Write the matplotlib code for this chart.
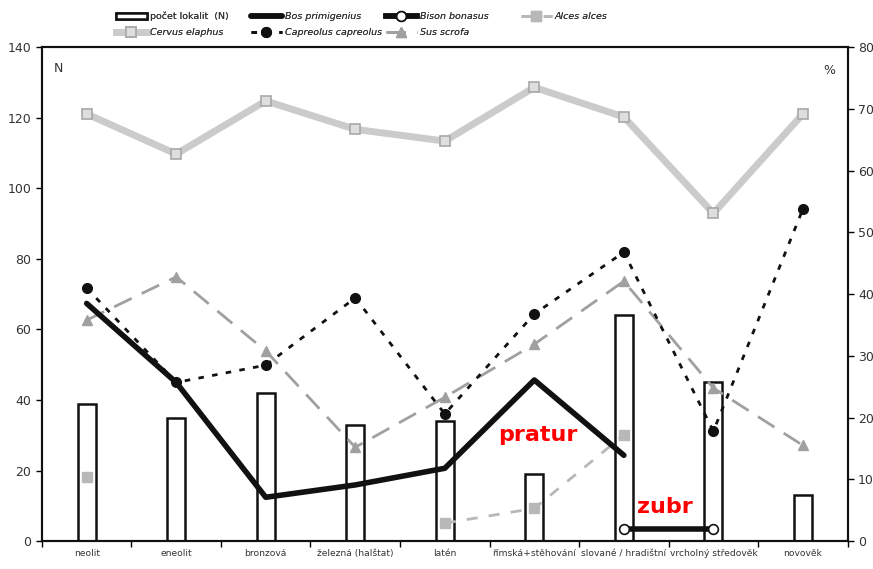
import matplotlib
matplotlib.use("Agg")
import matplotlib.pyplot as plt
import numpy as np

categories = ["neolit", "eneolit", "bronzová", "železná (halštat)", "latén",
              "římská+stěhování", "slované / hradištní", "vrcholný středověk", "novověk"]
n_sites = [39, 35, 42, 33, 34, 19, 64, 45, 13]
cervus = [69.2, 62.7, 71.3, 66.7, 64.8, 73.5, 68.7, 53.1, 69.2]
bos = [38.5, 25.7, 7.1, 9.1, 11.8, 26.1, 13.9, None, None]
capreolus = [41.0, 25.7, 28.5, 39.4, 20.6, 36.8, 46.8, 17.8, 53.8]
sus = [35.8, 42.8, 30.8, 15.2, 23.3, 31.9, 42.1, 24.8, 15.5]
alces = [10.4, None, None, None, 2.9, 5.3, 17.2, None, None]
bison = [None, None, None, None, None, None, 2.0, 2.0, None]

def arr(v):
    return np.array([np.nan if a is None else a for a in v], dtype=float)

x = np.arange(len(categories))

fig = plt.figure(figsize=(8.73, 5.69), dpi=100)
ax = fig.add_axes([0.048, 0.049, 0.923, 0.868])
ax2 = ax.twinx()

tc = "#333333"
ax.bar(x, n_sites, width=0.2, facecolor="white", edgecolor="#111111", linewidth=1.8,
       label="počet lokalit  (N)", zorder=2)
ax.set_xlim(-0.5, len(categories) - 0.5)
ax.set_ylim(0, 140)
ax.set_yticks(range(0, 141, 20))
ax2.set_ylim(0, 80)
ax2.set_yticks(range(0, 81, 10))

ax2.plot(x, arr(cervus), color="#cbcbcb", lw=5, marker="s", ms=7,
         mfc="#dedede", mec="#a8a8a8", mew=1.2, label="Cervus elaphus", zorder=3)
ax2.plot(x, arr(bos), color="#111111", lw=4, solid_capstyle="round",
         label="Bos primigenius", zorder=5)
ax2.plot(x, arr(capreolus), color="#111111", lw=2, ls=(0, (2, 3)), marker="o", ms=7,
         label="Capreolus capreolus", zorder=4)
ax2.plot(x, arr(sus), color="#a0a0a0", lw=2, ls=(0, (7, 4)), marker="^", ms=7,
         label="Sus scrofa", zorder=3)
ax2.plot(x, arr(alces), color="#b8b8b8", lw=2, ls=(0, (4, 4)), marker="s", ms=7,
         label="Alces alces", zorder=3)
ax2.plot(x, arr(bison), color="#111111", lw=4, marker="o", ms=7, mfc="white",
         mec="#111111", mew=1.2, label="Bison bonasus", zorder=5)

ax.set_xticks(x)
ax.set_xticklabels(categories, fontsize=6.6, color=tc)
ax.tick_params(axis="x", length=0, pad=6)
ax.set_xticks(np.arange(-0.5, len(categories), 1), minor=True)
ax.tick_params(axis="x", which="minor", length=4, direction="out", width=1)
ax.tick_params(axis="y", labelsize=9, labelcolor=tc, length=4, width=1)
ax2.tick_params(axis="y", labelsize=9, labelcolor=tc, length=4, width=1)
for a in (ax, ax2):
    for s in a.spines.values():
        s.set_linewidth(1.5)
        s.set_color("#111111")

ax.text(0.015, 0.957, "N", transform=ax.transAxes, fontsize=9, color=tc, va="center")
ax2.text(0.985, 0.953, "%", transform=ax.transAxes, fontsize=9, color=tc, va="center", ha="right")

ax2.text(5.04, 17.2, "pratur", color="red", fontsize=16, fontweight="bold", ha="center", va="center")
ax2.text(6.46, 5.5, "zubr", color="red", fontsize=16, fontweight="bold", ha="center", va="center")

h1, l1 = ax.get_legend_handles_labels()
h2, l2 = ax2.get_legend_handles_labels()
hd = dict(zip(l1 + l2, h1 + h2))
columns = [["počet lokalit  (N)", "Cervus elaphus"],
           ["Bos primigenius", "Capreolus capreolus"],
           ["Bison bonasus", "Sus scrofa"],
           ["Alces alces"]]
col_x = [113, 248, 383, 518]
for cx, col in zip(col_x, columns):
    leg = fig.legend([hd[o] for o in col], col, ncol=1, loc="upper left",
                     bbox_to_anchor=(cx / 873, 1 - 9 / 569), frameon=False, fontsize=6.8,
                     handlelength=3.3, handletextpad=0.3, labelspacing=0.75,
                     borderpad=0.3, borderaxespad=0)
    for t in leg.get_texts():
        t.set_color(tc)
        if not t.get_text().startswith("počet"):
            t.set_style("italic")
    fig.add_artist(leg)

fig.savefig("out.png", dpi=100)
